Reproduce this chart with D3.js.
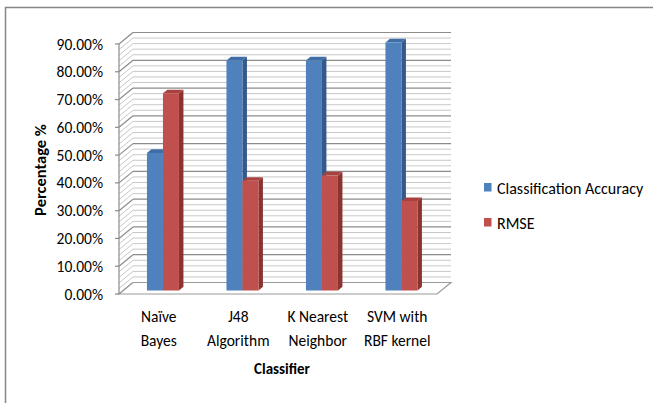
<!DOCTYPE html>
<html>
<head>
<meta charset="utf-8">
<script src="https://cdn.jsdelivr.net/npm/d3@7/dist/d3.min.js"></script>
<style>
  html, body { margin: 0; padding: 0; background: #fff; }
  svg { display: block; }
  text { font-family: Carlito, Lato, "Open Sans", sans-serif; fill: #000; }
</style>
</head>
<body>
<svg id="chart" width="653" height="403"></svg>
<script>
// Classifier comparison: accuracy vs RMSE
const categories = [["Naïve", "Bayes"], ["J48", "Algorithm"], ["K Nearest", "Neighbor"], ["SVM with", "RBF kernel"]];
const seriesNames = ["Classification Accuracy", "RMSE"];
const accuracy = [0.495, 0.828, 0.828, 0.893];
const rmse = [0.71, 0.395, 0.414, 0.322];
const yTicks = [0, 0.1, 0.2, 0.3, 0.4, 0.5, 0.6, 0.7, 0.8, 0.9];

const colors = {
  "Classification Accuracy": { front: "#4f81bd", top: "#3f6ea6", side: "#35598a" },
  "RMSE": { front: "#c0504d", top: "#a9423f", side: "#8a3432" }
};

const svg = d3.select("#chart");
const fs = 15.5;

// outer chart frame
svg.append("rect")
  .attr("x", 5.5).attr("y", 7.5).attr("width", 660).attr("height", 420)
  .attr("fill", "#fff").attr("stroke", "#868686").attr("stroke-width", 1.5);

// 3D projection: front plane scales plus a depth offset vector
const depth = { dx: 14, dy: -11.5 };
const y = d3.scaleLinear().domain([0, 0.9]).range([294, 44]);
const xFront = d3.scaleBand().domain(d3.range(categories.length)).range([119, 437]);
const xSeries = d3.scaleBand().domain(seriesNames).range([-16, 16]);
const project = (px, py, f) => [px + depth.dx * f, py + depth.dy * f];

const g = svg.append("g");

// back wall
const wallL = 119 + depth.dx, wallR = 437 + depth.dx;
g.append("path")
  .attr("d", `M${wallL},${y(0) + depth.dy}V${y(0.9) + depth.dy}H${wallR}V${y(0) + depth.dy}Z`)
  .attr("fill", "#fff").attr("stroke", "none");

// minor (2%) and major (10%) gridlines on the back and side walls
const gridVals = d3.range(0, 0.9001, 0.02);
gridVals.forEach(v => {
  const major = Math.abs(Math.round(v * 10) - v * 10) < 1e-6;
  const col = major ? "#8c8c8c" : "#c8c8c8";
  const yy = y(v);
  g.append("line")
    .attr("x1", wallL).attr("x2", wallR)
    .attr("y1", yy + depth.dy).attr("y2", yy + depth.dy)
    .attr("stroke", col).attr("stroke-width", major ? 1.2 : 1);
  g.append("line")
    .attr("x1", 119).attr("y1", yy)
    .attr("x2", wallL).attr("y2", yy + depth.dy)
    .attr("stroke", col).attr("stroke-width", major ? 1.2 : 1);
});

// floor
const fl = [[119, y(0)], [437, y(0)], project(437, y(0), 1), project(119, y(0), 1)];
g.append("path")
  .attr("d", "M" + fl.map(p => p.join(",")).join("L") + "Z")
  .attr("fill", "#fff").attr("stroke", "#9a9a9a").attr("stroke-width", 1.2);

// vertical axis with ticks
g.append("line")
  .attr("x1", 119).attr("x2", 119).attr("y1", y(0.9)).attr("y2", y(0))
  .attr("stroke", "#8c8c8c").attr("stroke-width", 1.2);
yTicks.forEach(v => {
  g.append("line")
    .attr("x1", 115).attr("x2", 119).attr("y1", y(v)).attr("y2", y(v))
    .attr("stroke", "#8c8c8c").attr("stroke-width", 1.2);
  g.append("text")
    .attr("x", 103).attr("y", y(v) + 5.5)
    .attr("text-anchor", "end").attr("font-size", fs)
    .text((v * 100).toFixed(2) + "%");
});

// 3D bars
const fFront = 0.3, fBack = 0.62;
const bars = [];
categories.forEach((c, i) => {
  const cx = xFront(i) + xFront.bandwidth() / 2;
  [accuracy[i], rmse[i]].forEach((val, s) => {
    bars.push({ name: seriesNames[s], cx, val });
  });
});
bars.forEach(b => {
  const c = colors[b.name];
  const xl = b.cx + xSeries(b.name), xr = xl + xSeries.bandwidth();
  const yb = y(0), yt = y(b.val);
  const fbl = project(xl, yb, fFront), fbr = project(xr, yb, fFront);
  const ftl = project(xl, yt, fFront), ftr = project(xr, yt, fFront);
  const btl = project(xl, yt, fBack), btr = project(xr, yt, fBack), bbr = project(xr, yb, fBack);
  const poly = pts => "M" + pts.map(p => p.join(",")).join("L") + "Z";
  g.append("path").attr("d", poly([fbr, ftr, btr, bbr])).attr("fill", c.side);
  g.append("path").attr("d", poly([ftl, ftr, btr, btl])).attr("fill", c.top);
  g.append("path").attr("d", poly([fbl, ftl, ftr, fbr])).attr("fill", c.front);
});

// category labels
categories.forEach((lines, i) => {
  const cx = xFront(i) + xFront.bandwidth() / 2;
  lines.forEach((t, k) => {
    g.append("text")
      .attr("x", cx).attr("y", 322 + k * 23.5)
      .attr("text-anchor", "middle").attr("font-size", fs)
      .text(t);
  });
});

// axis titles
svg.append("text")
  .attr("x", 282).attr("y", 374)
  .attr("text-anchor", "middle").attr("font-size", 15).attr("font-weight", "bold")
  .text("Classifier");
svg.append("text")
  .attr("transform", "translate(46,170) rotate(-90)")
  .attr("text-anchor", "middle").attr("font-size", 16.5).attr("font-weight", "bold")
  .text("Percentage %");

// legend
seriesNames.forEach((n, k) => {
  const ly = 188 + k * 35;
  svg.append("rect")
    .attr("x", 484).attr("y", ly - 5).attr("width", 7.5).attr("height", 8.5)
    .attr("fill", colors[n].front);
  svg.append("text")
    .attr("x", 497).attr("y", ly + 6).attr("font-size", fs + 0.5)
    .text(n);
});
</script>
</body>
</html>
